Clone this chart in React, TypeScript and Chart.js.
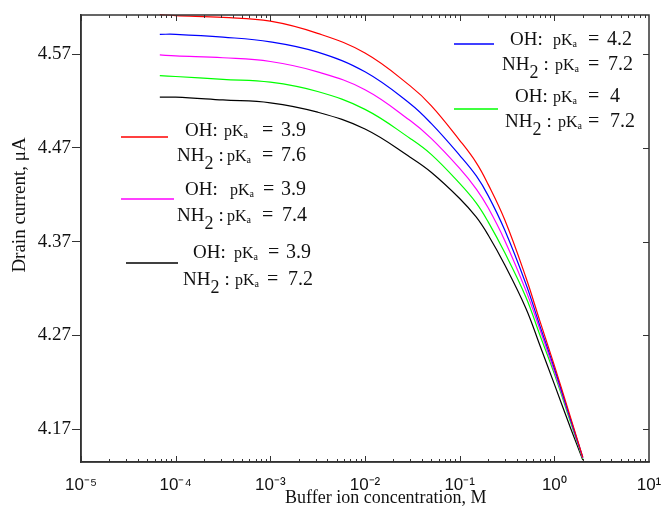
import { useEffect, useRef } from 'react';
import { Chart, registerables } from 'chart.js';

Chart.register(...registerables);

// ---------- data ----------
const concentration = [6.8e-5, 1e-4, 3.16e-4, 1e-3, 3.16e-3, 1e-2, 0.03, 0.05, 0.1, 0.15, 0.2, 0.3, 0.5, 0.7, 1, 1.5, 2];
const currentOH39NH76 = [4.612, 4.611, 4.609, 4.605, 4.592, 4.571, 4.536, 4.515, 4.478, 4.454, 4.431, 4.393, 4.332, 4.286, 4.238, 4.181, 4.140];
const currentOH42NH72 = [4.591, 4.591, 4.588, 4.583, 4.572, 4.551, 4.517, 4.496, 4.462, 4.440, 4.419, 4.382, 4.325, 4.281, 4.235, 4.179, 4.140];
const currentOH39NH74 = [4.569, 4.568, 4.566, 4.562, 4.551, 4.532, 4.499, 4.480, 4.448, 4.426, 4.406, 4.371, 4.318, 4.277, 4.232, 4.178, 4.139];
const currentOH40NH72 = [4.547, 4.546, 4.543, 4.540, 4.530, 4.511, 4.480, 4.463, 4.432, 4.411, 4.391, 4.358, 4.311, 4.271, 4.229, 4.176, 4.138];
const currentOH39NH72 = [4.524, 4.524, 4.521, 4.518, 4.508, 4.490, 4.460, 4.444, 4.416, 4.396, 4.377, 4.345, 4.299, 4.260, 4.218, 4.170, 4.137];

const seriesColors = ['#ff0000', '#0000ff', '#ff00ff', '#00ff00', '#000000'];
const seriesOH = ['3.9', '4.2', '3.9', '4', '3.9'];
const seriesNH = ['7.6', '7.2', '7.4', '7.2', '7.2'];
const seriesValues = [currentOH39NH76, currentOH42NH72, currentOH39NH74, currentOH40NH72, currentOH39NH72];

const xTickValues = [1e-5, 1e-4, 1e-3, 1e-2, 1e-1, 1, 10];
const xTickLabels = ['10\u207B\u2075', '10\u207B\u2074', '10\u207B\u00B3', '10\u207B\u00B2', '10\u207B\u00B9', '10\u2070', '10\u00B9'];
const yTickValues = [4.17, 4.27, 4.37, 4.47, 4.57];
const yTickLabels = ['4.17', '4.27', '4.37', '4.47', '4.57'];

const xTitle = 'Buffer ion concentration, M';
const yTitle = 'Drain current, \u03BCA';

// ---------- layout of the in-plot legend (positions only) ----------
const legendLayout = [
  { s: 0, line: [121, 168, 137], l1: { y: 136, oh: 185, pk: 224, eq: 262, end: 306 }, l2: { y: 161, nh: 177, pk: 227, eq: 262, end: 306 } },
  { s: 2, line: [121, 174, 199], l1: { y: 195, oh: 185, pk: 230, eq: 263, end: 306 }, l2: { y: 221, nh: 177, pk: 227, eq: 262, end: 307 } },
  { s: 4, line: [126, 178, 263], l1: { y: 258, oh: 193, pk: 234, eq: 268, end: 311 }, l2: { y: 285, nh: 183, pk: 235, eq: 267, end: 313 } },
  { s: 1, line: [454, 494, 44], l1: { y: 45, oh: 510, pk: 553, eq: 588, end: 632 }, l2: { y: 70, nh: 502, pk: 555, eq: 588, end: 633 } },
  { s: 3, line: [454, 498, 109], l1: { y: 102, oh: 515, pk: 553, eq: 588, end: 620 }, l2: { y: 127, nh: 505, pk: 558, eq: 588, end: 635 } },
];

const SERIF = '"Liberation Serif", "Times New Roman", serif';
const SANS = '"Liberation Sans", Arial, sans-serif';
const AXIS = '#333333';
const TEXT = '#111111';

function txt(ctx: CanvasRenderingContext2D, s: string, x: number, y: number, size: number, align: CanvasTextAlign = 'left', family = SERIF) {
  ctx.font = `${size}px ${family}`;
  ctx.textAlign = align;
  ctx.textBaseline = 'alphabetic';
  ctx.fillStyle = TEXT;
  ctx.fillText(s, x, y);
  return ctx.measureText(s).width;
}

function drawPk(ctx: CanvasRenderingContext2D, x: number, y: number) {
  const w = txt(ctx, 'pK', x, y, 16);
  txt(ctx, 'a', x + w, y + 2, 10);
}

const decorPlugin = {
  id: 'decor',
  afterDraw(chart: any) {
    const ctx: CanvasRenderingContext2D = chart.ctx;
    const { left, right, top, bottom } = chart.chartArea;
    const xs = chart.scales.x;
    const ys = chart.scales.y;
    ctx.save();
    // frame
    ctx.strokeStyle = AXIS;
    ctx.lineWidth = 1.5;
    ctx.strokeRect(left, top, right - left, bottom - top);
    // x ticks (inward, bottom and top)
    ctx.lineWidth = 1;
    ctx.beginPath();
    for (let d = -5; d <= 0; d++) {
      for (let m = 1; m <= 9; m++) {
        const v = m * Math.pow(10, d);
        const px = Math.round(xs.getPixelForValue(v)) + 0.5;
        const len = m === 1 ? 6 : 3;
        ctx.moveTo(px, bottom);
        ctx.lineTo(px, bottom - len);
        ctx.moveTo(px, top);
        ctx.lineTo(px, top + len);
      }
    }
    // y ticks on right side (inward)
    for (const v of yTickValues) {
      const py = Math.round(ys.getPixelForValue(v)) + 0.5;
      ctx.moveTo(right, py);
      ctx.lineTo(right - 6, py);
    }
    ctx.stroke();

    // axis titles
    txt(ctx, xTitle, 285, 503, 18);
    ctx.save();
    ctx.translate(25, 205);
    ctx.rotate(-Math.PI / 2);
    txt(ctx, yTitle, 0, 0, 19, 'center');
    ctx.restore();

    // legend
    for (const e of legendLayout) {
      ctx.strokeStyle = seriesColors[e.s];
      ctx.lineWidth = 1.3;
      ctx.beginPath();
      ctx.moveTo(e.line[0], e.line[2]);
      ctx.lineTo(e.line[1], e.line[2]);
      ctx.stroke();
      // line 1: OH
      txt(ctx, 'OH:', e.l1.oh, e.l1.y, 19);
      drawPk(ctx, e.l1.pk, e.l1.y);
      txt(ctx, '=', e.l1.eq, e.l1.y, 20);
      txt(ctx, seriesOH[e.s], e.l1.end, e.l1.y, 20, 'right');
      // line 2: NH2
      const wNH = txt(ctx, 'NH', e.l2.nh, e.l2.y, 19);
      const w2 = txt(ctx, '2', e.l2.nh + wNH, e.l2.y + 8, 18);
      txt(ctx, ':', e.l2.nh + wNH + w2 + 5, e.l2.y, 19);
      drawPk(ctx, e.l2.pk, e.l2.y);
      txt(ctx, '=', e.l2.eq, e.l2.y, 20);
      txt(ctx, seriesNH[e.s], e.l2.end, e.l2.y, 20, 'right');
    }
    ctx.restore();
  },
};

export default function App() {
  const ref = useRef<HTMLCanvasElement | null>(null);
  useEffect(() => {
    if (!ref.current) return;
    const datasets = seriesValues.map((vals, i) => ({
      label: `OH: pKa = ${seriesOH[i]}, NH2: pKa = ${seriesNH[i]}`,
      data: concentration.map((c, j) => ({ x: c, y: vals[j] })),
      borderColor: seriesColors[i],
      backgroundColor: seriesColors[i],
      borderWidth: 1.2,
      pointRadius: 0,
      tension: 0.4,
      fill: false,
      clip: 2,
    }));
    const chart = new Chart(ref.current, {
      type: 'line',
      data: { datasets },
      options: {
        animation: false,
        responsive: false,
        layout: { padding: { top: 15, right: 13, left: 0, bottom: 0 } },
        plugins: { legend: { display: false }, tooltip: { enabled: false } },
        scales: {
          x: {
            type: 'logarithmic',
            min: 1e-5,
            max: 10,
            afterBuildTicks: (s: any) => {
              s.ticks = xTickValues.map((v) => ({ value: v }));
            },
            afterFit: (s: any) => {
              s.height = 55;
              s.paddingLeft = 0;
              s.paddingRight = 0;
            },
            grid: { display: false, drawTicks: false },
            border: { display: true, color: AXIS, width: 1.5 },
            ticks: {
              autoSkip: false,
              maxRotation: 0,
              padding: 13,
              color: TEXT,
              font: { family: SANS, size: 17 },
              callback: (_v: any, i: number) => xTickLabels[i],
            },
          },
          y: {
            type: 'linear',
            min: 4.135,
            max: 4.6116,
            afterBuildTicks: (s: any) => {
              s.ticks = yTickValues.map((v) => ({ value: v }));
            },
            afterFit: (s: any) => {
              s.width = 81;
            },
            grid: { display: true, drawOnChartArea: false, drawTicks: true, tickLength: 9, color: AXIS, lineWidth: 1 },
            border: { display: true, color: AXIS, width: 1.5 },
            ticks: {
              padding: 1,
              color: TEXT,
              font: { family: SERIF, size: 19 },
              callback: (_v: any, i: number) => yTickLabels[i],
            },
          },
        },
      },
      plugins: [decorPlugin],
    });
    return () => chart.destroy();
  }, []);
  return (
    <div style={{ position: 'absolute', left: 0, top: 0, width: 662, height: 517, background: '#fff' }}>
      <canvas ref={ref} width={662} height={517} style={{ width: 662, height: 517 }} />
    </div>
  );
}
